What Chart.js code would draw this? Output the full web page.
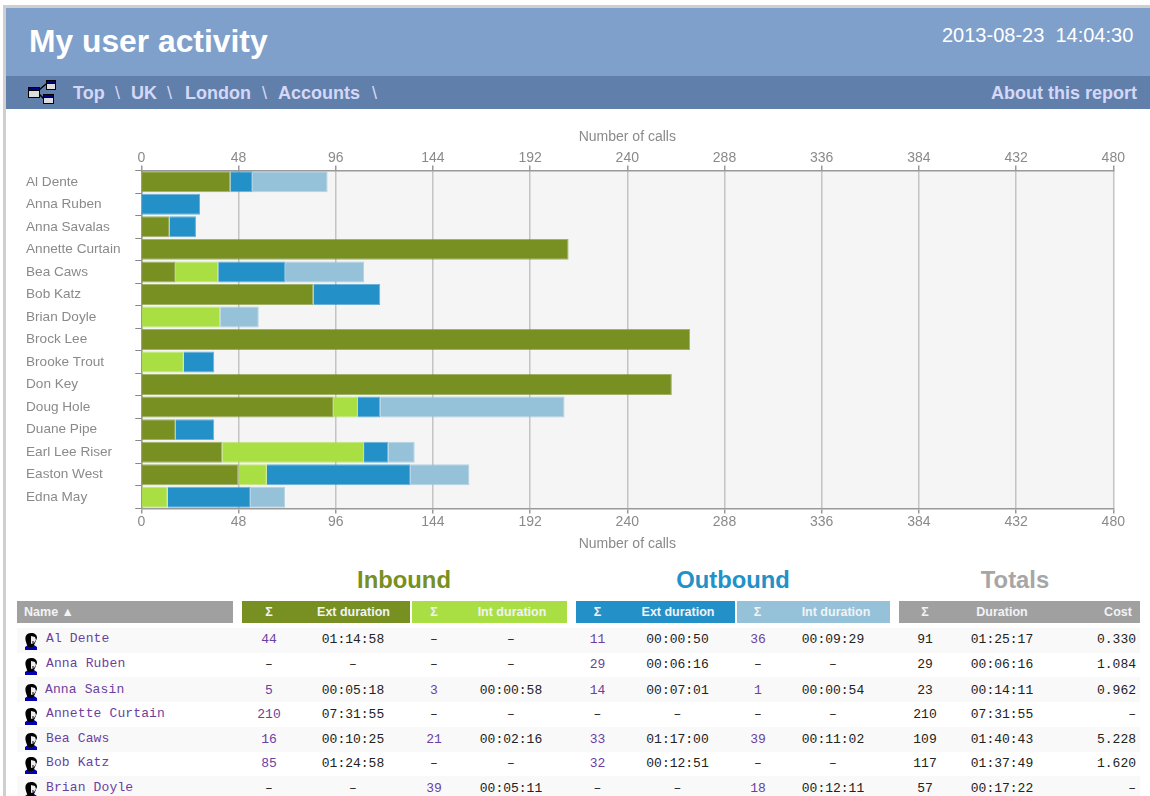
<!DOCTYPE html>
<html><head><meta charset="utf-8">
<script src="https://cdn.jsdelivr.net/npm/chart.js@4"></script>
<style>
html,body{margin:0;padding:0;background:#fff;overflow:hidden;width:1150px;height:796px;font-family:"Liberation Sans",Arial,sans-serif}
.a{position:absolute;white-space:pre}
.c{position:absolute;transform:translateX(-50%);white-space:pre;font:13px/16px "Liberation Mono",monospace;color:#222}
.l{color:#6b3fa0}
.h{position:absolute;top:601px;height:22px;}
.ht{position:absolute;top:601px;line-height:22px;font-weight:bold;font-size:12.5px;color:#f1f3f6;transform:translateX(-50%);white-space:pre}
.g{position:absolute;top:565px;line-height:30px;font-size:23.8px;font-weight:bold;transform:translateX(-50%);white-space:pre}
.b{position:absolute;top:81px;line-height:24px;font-size:18px;font-weight:bold;color:#d4d8f6;white-space:pre}
.s{position:absolute;top:81px;line-height:24px;font-size:18px;color:#d4d8f6;white-space:pre}
</style></head><body>
<div class="a" style="left:3px;top:5px;width:1147px;height:3px;background:#cfcfcf"></div>
<div class="a" style="left:3px;top:5px;width:3px;height:791px;background:#cfcfcf"></div>
<div class="a" style="left:6px;top:8px;width:1144px;height:68px;background:#7fa0cb"></div>
<div class="a" style="left:6px;top:76px;width:1144px;height:33px;background:#617fab"></div>
<div class="a" style="left:29px;top:23px;line-height:36px;font-size:31.8px;font-weight:bold;color:#fff">My user activity</div>
<div class="a" style="left:942px;top:23px;line-height:24px;font-size:20px;color:#fff">2013-08-23  14:04:30</div>
<svg class="a" style="left:28px;top:79px" width="29" height="26" viewBox="0 0 29 26">
<path d="M11 11 L18 5 M11 15 L16 20" stroke="#000" stroke-width="1.5"/>
<g stroke="#000"><rect x="0.5" y="8.5" width="11" height="10" fill="#ddd"/><rect x="0.5" y="8.5" width="11" height="3" fill="#00008b"/>
<rect x="18.5" y="1.5" width="9" height="9" fill="#ddd"/><rect x="18.5" y="1.5" width="9" height="3" fill="#00008b"/>
<rect x="15.5" y="15.5" width="10" height="9" fill="#ddd"/><rect x="15.5" y="15.5" width="10" height="3" fill="#00008b"/></g></svg>
<div id="crumbs"></div>
<div class="a" style="left:0;top:120px;width:1150px;height:440px"><canvas id="chart" width="1150" height="440" style="display:block"></canvas></div>
<div id="tbl"></div>
<script>
const categories=["Al Dente","Anna Ruben","Anna Savalas","Annette Curtain","Bea Caws","Bob Katz","Brian Doyle","Brock Lee","Brooke Trout","Don Key","Doug Hole","Duane Pipe","Earl Lee Riser","Easton West","Edna May"];
const inboundExt=[44,0,14,211,17,85,0,271,0,262,95,17,40,48,0];
const inboundInt=[0,0,0,0,21,0,39,0,21,0,12,0,70,14,13];
const outboundExt=[11,29,13,0,33,33,0,0,15,0,11,19,12,71,41];
const outboundInt=[37,0,0,0,39,0,19,0,0,0,91,0,13,29,17];
const xTicks=[0,48,96,144,192,240,288,336,384,432,480];
const axisTitle="Number of calls";
const crumbs=["Top","UK","London","Accounts"];
const tableNames=["Al Dente","Anna Ruben","Anna Sasin","Annette Curtain","Bea Caws","Bob Katz","Brian Doyle"];
const colInExtN=["44","–","5","210","16","85","–"];
const colInExtT=["01:14:58","–","00:05:18","07:31:55","00:10:25","01:24:58","–"];
const colInIntN=["–","–","3","–","21","–","39"];
const colInIntT=["–","–","00:00:58","–","00:02:16","–","00:05:11"];
const colOutExtN=["11","29","14","–","33","32","–"];
const colOutExtT=["00:00:50","00:06:16","00:07:01","–","01:17:00","00:12:51","–"];
const colOutIntN=["36","–","1","–","39","–","18"];
const colOutIntT=["00:09:29","–","00:00:54","–","00:11:02","–","00:12:11"];
const colTotN=["91","29","23","210","109","117","57"];
const colTotT=["01:25:17","00:06:16","00:14:11","07:31:55","01:40:43","01:37:49","00:17:22"];
const colCost=["0.330","1.084","0.962","–","5.228","1.620","–"];

const C={olive:"#788f22",lime:"#a9df43",blue:"#2490c8",light:"#95c1d9",grey:"#a0a0a0"};
const font='"Liberation Sans",Arial,sans-serif';
const txt="#8a8a8a";

function el(cls,text,style,parent){const d=document.createElement("div");d.className=cls;d.textContent=text;d.style.cssText=style;(parent||document.body).appendChild(d);return d;}
// breadcrumb
const cb=document.getElementById("crumbs");
[73,131,185,278].forEach((x,i)=>el("b",crumbs[i],`left:${x}px`,cb));
[115,167,262,372].forEach(x=>el("s","\\",`left:${x}px`,cb));
el("b","About this report","left:991px",cb);

// table
const t=document.getElementById("tbl");
[[17,233,C.grey],[242,410,C.olive],[412,567,C.lime],[576,734.5,C.blue],[737,890,C.light],[899,1140,C.grey]].forEach(h=>el("h","",`left:${h[0]}px;width:${h[1]-h[0]}px;background:${h[2]}`,t));
[["Inbound",404,C.olive],["Outbound",733,C.blue],["Totals",1015,"#a6a6a6"]].forEach(g=>el("g",g[0],`left:${g[1]}px;color:${g[2]}`,t));
el("ht","Name ▲","left:49px",t);
[["Σ",269],["Ext duration",353.5],["Σ",434],["Int duration",512],["Σ",597.5],["Ext duration",678],["Σ",757.5],["Int duration",836],["Σ",925],["Duration",1002]].forEach(h=>el("ht",h[0],`left:${h[1]}px`,t));
el("ht","Cost","left:1118px",t);
const rowY=[638,663,689,713,738,762,787];
[[628,24.5],[677,25],[727,25],[776,25]].forEach(s=>el("a","",`left:17px;width:1123px;top:${s[0]}px;height:${s[1]}px;background:#f9f9f9`,t));
const cols=[[colInExtN,269,1],[colInExtT,353,0],[colInIntN,434,1],[colInIntT,511,0],[colOutExtN,597.5,1],[colOutExtT,677.5,0],[colOutIntN,758,1],[colOutIntT,833,0],[colTotN,925,0],[colTotT,1002,0]];
rowY.forEach((y,r)=>{
  const ic=document.createElementNS("http://www.w3.org/2000/svg","svg");
  ic.setAttribute("width","14");ic.setAttribute("height","18");ic.setAttribute("viewBox","0 0 14 18");
  ic.style.cssText=`position:absolute;left:24px;top:${y-6}px`;
  ic.innerHTML='<path d="M1 18 V15 L4 13 H10 L13 15 V18Z" fill="#0000b0"/><path d="M2 10 C0 4 3 1 7 1 C11 1 13 3 13 6 L11 11 L9 15 H4 L3 13Z" fill="#000"/><path d="M7 4 L11 5 L12 8 L10 11 L7 12 L7 8Z" fill="#eee"/><path d="M8 10 L10 10" stroke="#000" stroke-width="1"/>';
  t.appendChild(ic);
  el("c",tableNames[r],`left:${r==2?45:46}px;top:${y-7}px;transform:none;color:#6b3fa0;letter-spacing:.13px`,t);
  cols.forEach(c=>el(c[2]&&c[0][r]!=="–"?"c l":"c",c[0][r],`left:${c[1]}px;top:${y-6}px`,t));
  el("c",colCost[r],`left:auto;right:14px;top:${y-6}px;transform:none`,t);
});

const plotBg={id:"plotBg",beforeDraw(ch){const a=ch.chartArea,g=ch.ctx;g.save();g.fillStyle="#f5f5f5";g.fillRect(a.left,a.top,a.right-a.left,a.bottom-a.top);g.restore();}};
function xAxis(pos,h){return {type:"linear",position:pos,axis:"x",stacked:true,min:0,max:480,
  afterBuildTicks(s){s.ticks=xTicks.map(v=>({value:v}));},
  afterFit(s){s.height=h;},
  title:{display:true,text:axisTitle,color:txt,font:{family:font,size:14},padding:pos=="top"?{top:0,bottom:4}:{top:6,bottom:0}},
  ticks:{color:txt,font:{family:font,size:14},padding:pos=="top"?-1:0.5,maxRotation:0,autoSkip:false},
  border:{display:true,color:"#999",width:1.5},
  grid:{color:"#c4c4c4",lineWidth:1.5,tickLength:5,tickColor:"#999",drawOnChartArea:pos!="top"}};}
function ds(label,data,color){return {label,data,backgroundColor:color,borderColor:color+"aa",borderWidth:1,barPercentage:.96,categoryPercentage:.97,xAxisID:"x"};}
new Chart(document.getElementById("chart"),{type:"bar",plugins:[plotBg],
 data:{labels:categories,datasets:[ds("Inbound ext",inboundExt,C.olive),ds("Inbound int",inboundInt,C.lime),ds("Outbound ext",outboundExt,C.blue),ds("Outbound int",outboundInt,C.light)]},
 options:{indexAxis:"y",responsive:false,animation:false,devicePixelRatio:1,
  layout:{padding:{left:26,right:36.7,top:9,bottom:7}},
  plugins:{legend:{display:false},tooltip:{enabled:false}},
  scales:{x:xAxis("bottom",44.5),x2:xAxis("top",41.5),
   y:{type:"category",stacked:true,position:"left",afterFit(s){s.width=115.3;},
    ticks:{color:txt,font:{family:font,size:13.6},crossAlign:"far",padding:6},
    border:{display:true,color:"#999",width:1.5},
    grid:{drawOnChartArea:false,tickLength:6,tickColor:"#888",offset:true}}}}});
</script></body></html>
